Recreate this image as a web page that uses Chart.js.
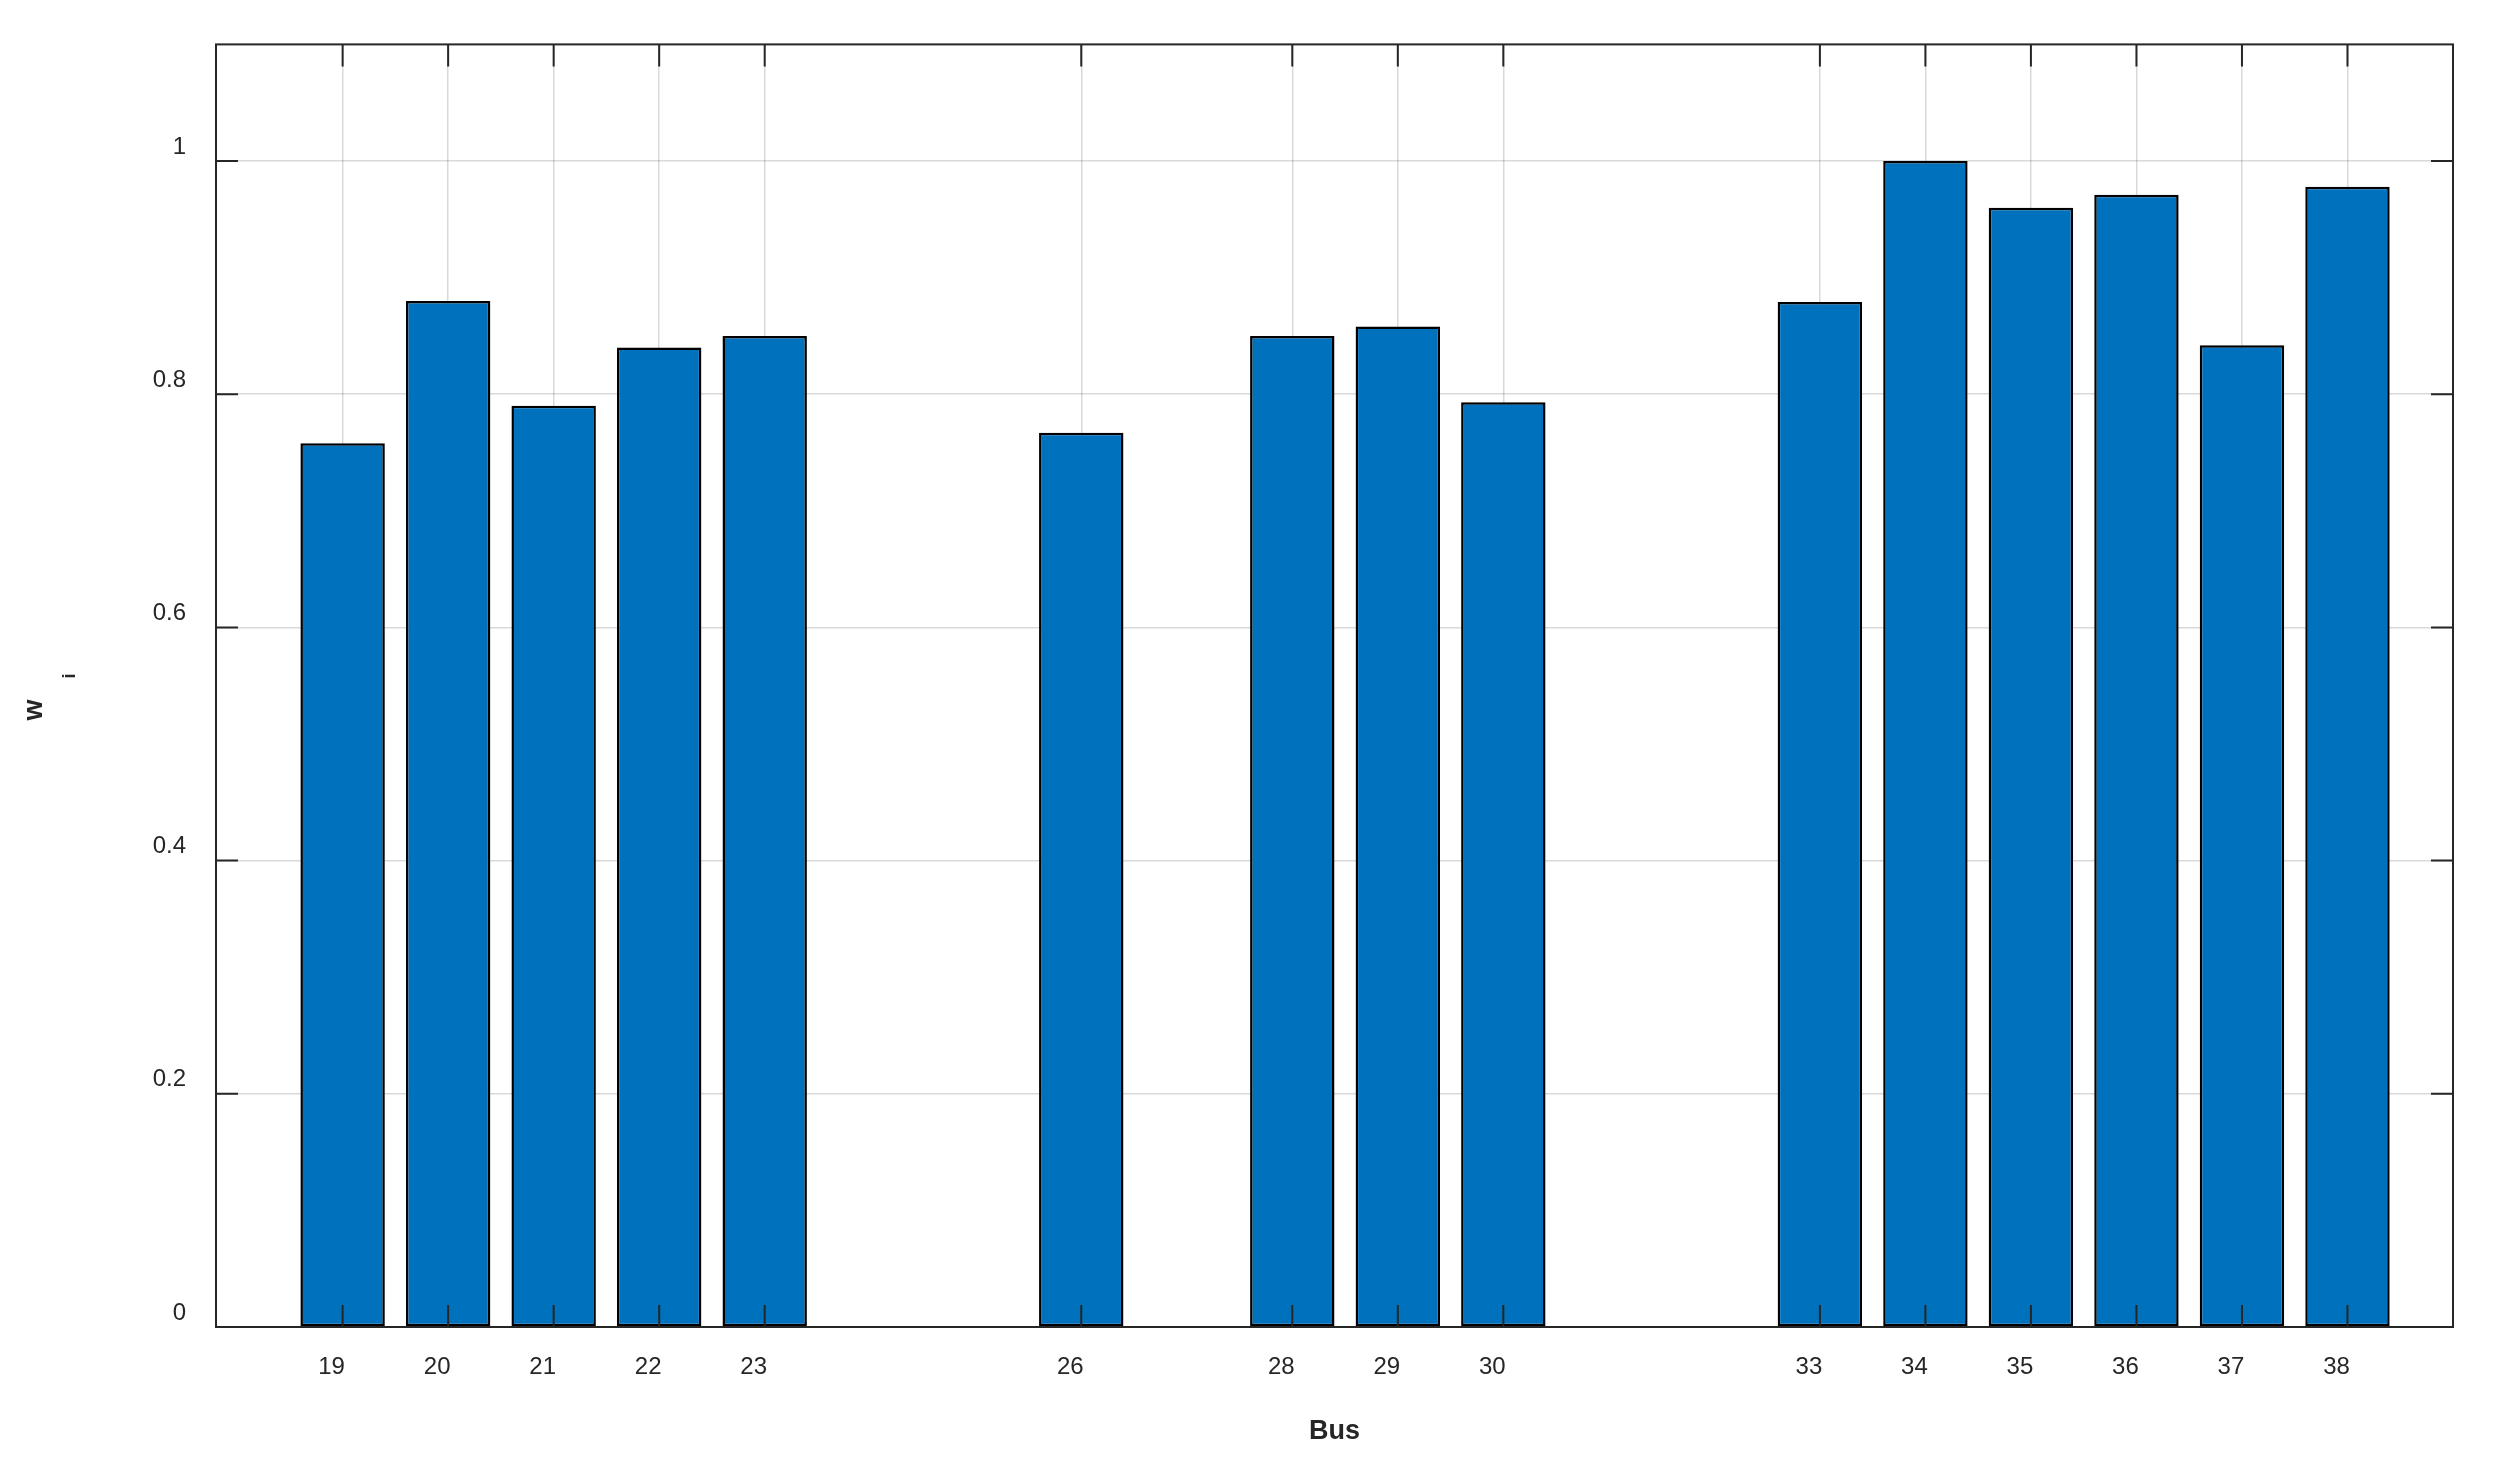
<!DOCTYPE html>
<html><head><meta charset="utf-8">
<script src="https://cdn.jsdelivr.net/npm/chart.js@4"></script>
<style>html,body{margin:0;padding:0;background:#fff}#wrap{width:2504px;height:1475px}</style>
</head><body><div id="wrap"><canvas id="c"></canvas></div>
<script>
const buses = [19,20,21,22,23,26,28,29,30,33,34,35,36,37,38];
const weights = [0.758,0.880,0.790,0.840,0.850,0.767,0.850,0.858,0.793,0.879,1.000,0.960,0.971,0.842,0.978];
const yTicks = [0,0.2,0.4,0.6,0.8,1];
const FONT = '"Liberation Sans", Arial, sans-serif';
const frame = {
  id:'frame',
  afterDraw(ch){
    const {ctx, chartArea:a, scales:{x,y}} = ch;
    ctx.save();
    ctx.strokeStyle='#262626'; ctx.lineWidth=2;
    ctx.strokeRect(a.left,a.top,a.right-a.left,a.bottom-a.top);
    ctx.beginPath();
    buses.forEach(b=>{const px=x.getPixelForValue(b);
      ctx.moveTo(px,a.bottom);ctx.lineTo(px,a.bottom-22);
      ctx.moveTo(px,a.top);ctx.lineTo(px,a.top+22);});
    yTicks.forEach(v=>{const py=y.getPixelForValue(v);
      ctx.moveTo(a.left,py);ctx.lineTo(a.left+22,py);
      ctx.moveTo(a.right,py);ctx.lineTo(a.right-22,py);});
    ctx.stroke();
    ctx.fillStyle='#262626';
    ctx.font='bold 27px '+FONT;
    ctx.textAlign='center';ctx.textBaseline='middle';
    ctx.fillText('Bus',(a.left+a.right)/2,1432);
    ctx.save();ctx.translate(35,710);ctx.rotate(-Math.PI/2);
    ctx.fillText('w',0,0);ctx.restore();
    ctx.save();ctx.translate(70,676);ctx.rotate(-Math.PI/2);
    ctx.font='bold 18px '+FONT;ctx.fillText('i',0,0);ctx.restore();
    ctx.restore();
  }
};
new Chart(document.getElementById('c'),{
  type:'bar',
  data:{datasets:[{data:buses.map((b,i)=>({x:b,y:weights[i]})),
    backgroundColor:'#0072BD',borderColor:'#000',borderWidth:2.5,borderSkipped:false,
    categoryPercentage:1,barPercentage:0.8}]},
  options:{responsive:true,maintainAspectRatio:false,animation:false,
    layout:{padding:{top:42,right:51,left:0,bottom:0}},
    plugins:{legend:{display:false},tooltip:{enabled:false}},
    scales:{
      x:{type:'linear',min:17.8,max:39,offset:false,
        afterBuildTicks(s){s.ticks=buses.map(v=>({value:v}));},
        afterFit(s){s.height=148;},
        grid:{offset:false,color:'rgba(0,0,0,0.15)',lineWidth:1.5,drawTicks:false},
        border:{display:false},
        ticks:{padding:26,color:'#262626',font:{family:FONT,size:24},
          callback:v=>String(v), maxRotation:0, autoSkip:false, labelOffset:-11}},
      y:{min:0,max:1.1,
        afterBuildTicks(s){s.ticks=yTicks.map(v=>({value:v}));},
        afterFit(s){s.width=216;},
        grid:{color:'rgba(0,0,0,0.15)',lineWidth:1.5,drawTicks:false},
        border:{display:false},
        ticks:{padding:30,color:'#262626',font:{family:FONT,size:24},
          callback:v=>String(v), labelOffset:-14}}
    }},
  plugins:[frame]
});
</script></body></html>
